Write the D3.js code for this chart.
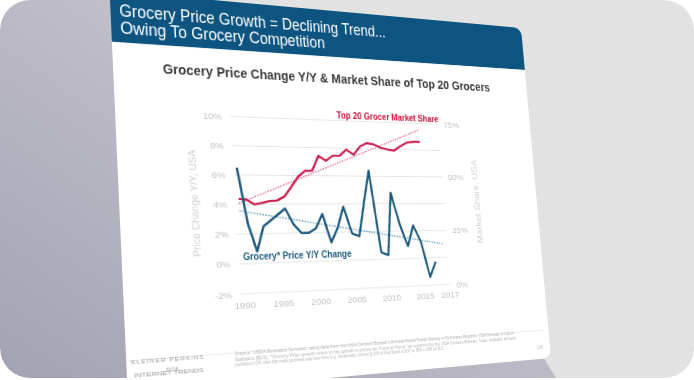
<!DOCTYPE html>
<html><head><meta charset="utf-8">
<script src="https://cdn.jsdelivr.net/npm/d3@7/dist/d3.min.js"></script>
<style>
html,body{margin:0;padding:0;background:#ffffff;width:694px;height:380px;overflow:hidden;}
#frame{position:absolute;left:0;top:0;width:694px;height:378px;border-radius:30px;overflow:hidden;background:#e2e2e2;clip-path:inset(0 round 30px);}
#bg{position:absolute;left:0;top:0;}
#slide{position:absolute;left:0;top:0;transform-origin:0 0;}
svg text{font-family:"Liberation Sans",Arial,Helvetica,sans-serif;}
</style></head><body>
<div id="frame"><svg id="bg" width="694" height="378"></svg><div id="slide"></div></div>
<script>
// ---------------- data ----------------
const years=[1990,1991,1992,1993,1994,1995,1996,1997,1998,1999,2000,2001,2002,2003,2004,2005,2006,2007,2008,2009,2010,2011,2012,2013,2014,2015,2016,2017];
const priceChange=[6.5,2.7,0.8,2.5,2.9,3.3,3.7,2.6,2.0,2.0,2.3,3.3,1.3,2.3,3.8,1.9,1.7,4.1,6.4,0.5,0.3,4.8,2.5,0.9,2.4,1.2,-1.4,-0.3];
const shareYears=[1990,1991,1992,1993,1994,1995,1996,1997,1998,1999,2000,2001,2002,2003,2004,2005,2006,2007,2008,2009,2010,2011,2012,2013,2014,2015,2016];
const marketShare=[39.8,39.6,37.5,38.1,38.9,39.1,40.8,45.0,49.4,52.1,52.2,58.9,56.7,59.0,59.1,61.9,59.7,63.5,65.1,64.6,63.1,62.4,62.0,64.1,65.8,66.3,66.3];
const priceTrendYears=[1990,2018.4];
const priceTrend=[3.57,1.0];
const shareTrendYears=[1990,2016];
const shareTrend=[38.0,71.9];
const leftTicks=[-2,0,2,4,6,8,10];
const leftTickLabels=["-2%","0%","2%","4%","6%","8%","10%"];
const rightTicks=[0,25,50,75];
const rightTickLabels=["0%","25%","50%","75%"];
const xTickPos=[1990,1995,2000,2005,2010,2015,2018.8];
const xTickLabels=["1990","1995","2000","2005","2010","2015","2017"];
const headerLines=["Grocery Price Growth = Declining Trend...","Owing To Grocery Competition"];
const chartTitle="Grocery Price Change Y/Y & Market Share of Top 20 Grocers";
const shareLabel="Top 20 Grocer Market Share";
const priceLabel="Grocery* Price Y/Y Change";
const leftAxisTitle="Price Change Y/Y, USA";
const rightAxisTitle="Market Share, USA";
const sourceLines=["Source: USDA Research Services, using data from the USA Census Bureau's Annual Retail Trade Survey + Company Reports, USA Bureau of Labor",
"Statistics (BLS). *Grocery Price growth refers to the growth in prices for 'Food at Home' as reported by the USA Census Bureau. Note: Includes all food",
"purchases in CPI, other than meals purchased away from home (e.g., Restaurants). Grocery @ 50% of Food Spend in 2017 vs. 58% in 1998 per BLS."];
const logoLines=["KLEINER PERKINS","2018","INTERNET TRENDS"];
const pageNum="136";

// ---------------- perspective helpers ----------------
function homography(src,dst){
  const A=[],b=[];
  for(let i=0;i<4;i++){
    const [x,y]=src[i],[u,v]=dst[i];
    A.push([x,y,1,0,0,0,-u*x,-u*y]);b.push(u);
    A.push([0,0,0,x,y,1,-v*x,-v*y]);b.push(v);
  }
  const n=8;
  for(let c=0;c<n;c++){
    let p=c;for(let r=c+1;r<n;r++)if(Math.abs(A[r][c])>Math.abs(A[p][c]))p=r;
    [A[c],A[p]]=[A[p],A[c]];[b[c],b[p]]=[b[p],b[c]];
    for(let r=0;r<n;r++){if(r===c)continue;const f=A[r][c]/A[c][c];for(let k=c;k<n;k++)A[r][k]-=f*A[c][k];b[r]-=f*b[c];}
  }
  return b.map((v,i)=>v/A[i][i]);
}
function apply(h,[x,y]){const w=h[6]*x+h[7]*y+1;return[(h[0]*x+h[1]*y+h[2])/w,(h[3]*x+h[4]*y+h[5])/w];}

const W=470,H=405;
const quad=[[109.6,-9.4],[521,28],[551,358],[127.8,396]];
const rect=[[0,0],[W,0],[W,H],[0,H]];
const hF=homography(rect,quad),hI=homography(quad,rect);
const F=p=>apply(hI,p);

// ---------------- background ----------------
const bg=d3.select('#bg');
const defs=bg.append('defs');
const gr=defs.append('linearGradient').attr('id','shadowG').attr('x1',1).attr('y1',0).attr('x2',0).attr('y2',1);
gr.append('stop').attr('offset',0).attr('stop-color','#dcdcdf');
gr.append('stop').attr('offset',0.45).attr('stop-color','#bdbcc7');
gr.append('stop').attr('offset',1).attr('stop-color','#a3a2b3');
bg.append('polygon').attr('points',[[0,0],[112,0],[540,352],[556,378],[0,378]].map(p=>p.join(',')).join(' ')).attr('fill','url(#shadowG)');

// ---------------- slide ----------------
const m=`matrix3d(${hF[0]},${hF[3]},0,${hF[6]},${hF[1]},${hF[4]},0,${hF[7]},0,0,1,0,${hF[2]},${hF[5]},0,1)`;
const wrap=d3.select('#slide').style('width',W+'px').style('height',H+'px').style('transform',m);
const svg=wrap.append('svg').attr('width',W).attr('height',H);
const sd=svg.append('defs');
sd.append('clipPath').attr('id','slideClip').append('rect').attr('width',W).attr('height',H).attr('rx',10);
const S=svg.append('g').attr('clip-path','url(#slideClip)');
S.append('rect').attr('width',W).attr('height',H).attr('fill','#ffffff');
const hb=(F([110.8,42])[1]+F([523.5,69.5])[1])/2;
S.append('rect').attr('width',W).attr('height',hb).attr('fill','#0d5480');

function textAt(g,str,s,e,o){
  const a=F(s);
  const t=g.append('text').attr('x',a[0]).attr('y',a[1]).text(str)
    .attr('font-size',o.size).attr('fill',o.fill).attr('font-weight',o.weight||'normal');
  if(e){const b=F(e);t.attr('textLength',b[0]-a[0]).attr('lengthAdjust','spacingAndGlyphs');}
  return t;
}
textAt(S,headerLines[0],[119.5,16.7],[385,25],{size:17.5,fill:'#ffffff'});
textAt(S,headerLines[1],[120.5,33.8],[325,46.7],{size:17.5,fill:'#ffffff'});
textAt(S,chartTitle,[163,73.3],[490,90],{size:13.8,fill:'#3a3a3a',weight:'bold'});

// plot area
const pTL=F([230,115.5]),pBL=F([240,292.5]),pBR=F([453.3,285.7]),pTR=F([436,125]);
const plot={left:(pTL[0]+pBL[0])/2,right:(pBR[0]+pTR[0])/2,top:(pTL[1]+pTR[1])/2,bottom:(pBL[1]+pBR[1])/2};
const x=d3.scaleLinear().domain([1989.5,2019.1]).range([plot.left,plot.right]);
const yL=d3.scaleLinear().domain([-2,10]).range([plot.bottom,plot.top]);
const yR=d3.scaleLinear().domain([0,75]).range([plot.bottom,plot.top]);

const P=S.append('g');
P.append('g').selectAll('line').data(leftTicks).join('line')
  .attr('x1',plot.left).attr('x2',plot.right).attr('y1',d=>yL(d)).attr('y2',d=>yL(d))
  .attr('stroke','#e4e4e4').attr('stroke-width',1);

const axL=P.append('g').attr('transform',`translate(${plot.left},0)`)
  .call(d3.axisLeft(yL).tickValues(leftTicks).tickSize(0).tickPadding(8).tickFormat((d,i)=>leftTickLabels[i]));
const axR=P.append('g').attr('transform',`translate(${plot.right},0)`)
  .call(d3.axisRight(yR).tickValues(rightTicks).tickSize(0).tickPadding(7).tickFormat((d,i)=>rightTickLabels[i]));
const axB=P.append('g').attr('transform',`translate(0,${plot.bottom})`)
  .call(d3.axisBottom(x).tickValues(xTickPos).tickSize(0).tickPadding(8).tickFormat((d,i)=>xTickLabels[i]));
[axL,axR,axB].forEach(a=>{a.select('.domain').remove();a.selectAll('text').attr('fill','#c2c2c2').attr('font-size',9.8).attr('font-family','"Liberation Sans",Arial,sans-serif');});

// axis titles
function rotTitle(str,bot,top,size){
  const a=F(bot),b=F(top);
  P.append('text').attr('transform',`translate(${a[0]},${a[1]}) rotate(-90)`).text(str)
   .attr('font-size',size).attr('fill','#cdcdcd').attr('textLength',a[1]-b[1]).attr('lengthAdjust','spacingAndGlyphs');
}
rotTitle(leftAxisTitle,[201,256.7],[201,150],10.5);
rotTitle(rightAxisTitle,[483,243],[483,160],10);

// trend lines
const tl=d3.line().x(d=>x(d[0])).y(d=>d[1]);
P.append('path').attr('d',tl(shareTrendYears.map((yr,i)=>[yr,yR(shareTrend[i])])))
 .attr('fill','none').attr('stroke','#dd5c86').attr('stroke-width',1.3).attr('stroke-dasharray','1.6,1.4');
P.append('path').attr('d',tl(priceTrendYears.map((yr,i)=>[yr,yL(priceTrend[i])])))
 .attr('fill','none').attr('stroke','#5f9cba').attr('stroke-width',1.4).attr('stroke-dasharray','1.6,1.4');

// series lines
P.append('path').attr('d',tl(shareYears.map((yr,i)=>[yr,yR(marketShare[i])])))
 .attr('fill','none').attr('stroke','#cc2152').attr('stroke-width',2.4).attr('stroke-linejoin','round');
P.append('path').attr('d',tl(years.map((yr,i)=>[yr,yL(priceChange[i])])))
 .attr('fill','none').attr('stroke','#1d5a7d').attr('stroke-width',2.4).attr('stroke-linejoin','round');

// series labels
textAt(P,shareLabel,[336.7,118],[438.3,120.5],{size:11.5,fill:'#c8143c',weight:'bold'});
textAt(P,priceLabel,[243.3,260],[351.7,257.5],{size:11.5,fill:'#1d5a7d',weight:'bold'});

// footer
const fl1=F([125,356]),fl2=F([548,334]);
S.append('line').attr('x1',fl1[0]).attr('x2',W-6).attr('y1',(fl1[1]+fl2[1])/2).attr('y2',(fl1[1]+fl2[1])/2).attr('stroke','#e6e6e6').attr('stroke-width',0.8);
textAt(S,sourceLines[0],[235,355.5],[515,347],{size:4.6,fill:'#b5b5b5'});
textAt(S,sourceLines[1],[235,361],[517,352],{size:4.6,fill:'#b5b5b5'});
textAt(S,sourceLines[2],[235,366.5],[445,360],{size:4.6,fill:'#b5b5b5'});
const pn=F([540,349]);
S.append('text').attr('x',pn[0]).attr('y',pn[1]).attr('text-anchor','middle').attr('font-size',5).attr('fill','#b0b0b0').text(pageNum);
textAt(S,logoLines[0],[131,364.5],[205,361],{size:6,fill:'#9a9a9a'}).attr('letter-spacing',1);
const yl=F([172,371.5]);
S.append('text').attr('x',yl[0]).attr('y',yl[1]).attr('text-anchor','middle').attr('font-size',5.5).attr('fill','#9a9a9a').text(logoLines[1]);
textAt(S,logoLines[2],[134,377.5],[204,374.5],{size:5.6,fill:'#9a9a9a'});
</script></body></html>
